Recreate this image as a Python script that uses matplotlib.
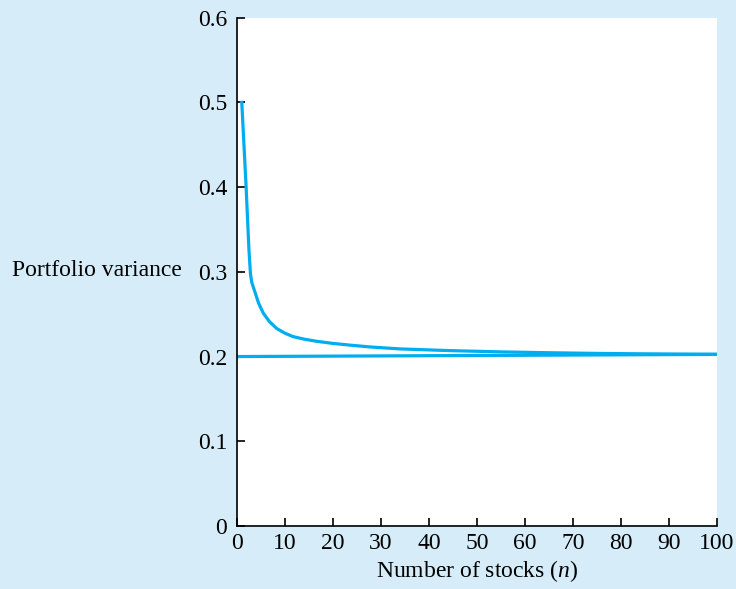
import numpy as np
import matplotlib.pyplot as plt

# values
n_stocks = [1, 1.9, 2.5, 2.8, 3.1, 3.75, 4.5, 5.5, 6.8, 8.3, 10, 11.7, 14,
            16.6, 20, 23.5, 28, 34, 44.4, 55, 65, 75, 85, 100]
port_var = [0.500, 0.400, 0.325, 0.298, 0.287, 0.276, 0.263, 0.251, 0.241, 0.233,
            0.2275, 0.2235, 0.2205, 0.218, 0.2155, 0.2135, 0.2112, 0.209, 0.207,
            0.2055, 0.2045, 0.2037, 0.2032, 0.2027]
floor_n = [0, 100]
floor_v = [0.200, 0.2025]

xticks = [0, 10, 20, 30, 40, 50, 60, 70, 80, 90, 100]
yticks = [0, 0.1, 0.2, 0.3, 0.4, 0.5, 0.6]
ytick_labels = ['0', '0.1', '0.2', '0.3', '0.4', '0.5', '0.6']

plt.rcParams['font.family'] = 'Liberation Serif'
plt.rcParams['mathtext.fontset'] = 'custom'
plt.rcParams['mathtext.it'] = 'Liberation Serif:italic'
plt.rcParams['mathtext.rm'] = 'Liberation Serif'

bg = '#d6edf9'
blue = '#00aeef'

fig = plt.figure(figsize=(7.36, 5.89), dpi=100, facecolor=bg)
ax = fig.add_axes([0.322, 0.107, 0.652, 0.863])
ax.set_facecolor('white')

ax.plot(floor_n, floor_v, color=blue, lw=2.3, solid_capstyle='butt')
ax.plot(n_stocks, port_var, color=blue, lw=2.3, solid_joinstyle='round')

ax.set_xlim(0, 100)
ax.set_ylim(0, 0.6)
ax.set_xticks(xticks)
ax.set_yticks(yticks)
ax.set_yticklabels(ytick_labels)
for s in ['top', 'right']:
    ax.spines[s].set_visible(False)
for s in ['left', 'bottom']:
    ax.spines[s].set_linewidth(1.2)
ax.tick_params(direction='in', length=6, width=1.2, labelsize=17)
ax.tick_params(axis='x', pad=5)
ax.tick_params(axis='y', pad=7)

ax.set_xlabel('Number of stocks ($n$)', fontsize=17, labelpad=3)
fig.text(0.016, 0.54, 'Portfolio variance', fontsize=17, va='center', ha='left')

fig.savefig('out.png', dpi=100, facecolor=bg)
